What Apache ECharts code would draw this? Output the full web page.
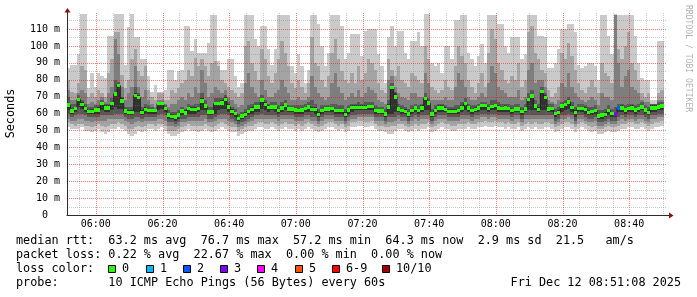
<!DOCTYPE html>
<html>
<head>
<meta charset="utf-8">
<script src="https://cdn.jsdelivr.net/npm/echarts@6.0.0/dist/echarts.min.js"></script>
<style>
html,body{margin:0;padding:0;background:#ffffff;}
#chart{width:697px;height:297px;}
</style>
</head>
<body>
<div id="chart"></div>
<script>
// ---------- data (time in minutes after midnight, values in ms) ----------
const timeStartMin = 351.35;   // 05:51:21
const timeEndMin = 531.35;     // 08:51:21
const stepMin = 1;             // one column per 60 s

const median = [65,61.6,63,68.5,65.5,63,61.4,61.4,62.3,62.3,
66,63.5,63.5,66,71.7,76.6,67.5,61.6,60.8,60.8,
70.7,69.5,60.8,62.6,62,62,62,66,66,63,
59.4,58.5,58,59.4,61.6,60.6,63,62.6,62.6,63,
67.5,64.5,61,61,66,66,66.5,68.5,64,61.2,
60.2,57.2,58.6,59.6,61.2,62.6,64.1,64.1,68.1,65.5,
63.7,64.1,64.1,61.8,63.5,65,62.8,62.8,62.2,61.8,
62.2,63.2,64.1,62.6,62.6,59.6,61.8,62.8,62.8,63.2,
61.8,61.8,61.8,59.6,62.2,63.7,63.7,63.7,63.7,63.7,
64.2,64.2,62,61.6,61.6,60,64,75.5,70,62.8,
62,61.4,60,62,63.3,62,63.3,69,66.2,60,
62,63.5,63.5,62.5,61.4,61.4,61.4,62,63.5,66,
63.3,62,62.5,63.3,64.8,64.8,63,64.2,64.8,63.5,
63,63.3,63,62,62.8,62.8,61.2,62.8,68.5,70.5,
64.7,62.6,73,69.5,62.8,63.2,60.2,60.8,64.5,65.5,
67,63.7,60.8,63.2,63.2,62.6,60.8,61.2,61.8,58.6,
59.2,59.6,61.8,60.2,60,63.3,63.5,62.2,63.2,63.5,
62.2,63.2,64.1,62.2,60.8,63.5,63.5,64.1,64.5];

// sorted pings per column: ping1 = fastest ... ping10 = slowest
const ping10 = [87,89,89,95,119,119,75,84,76,84, 82,81,106,106,119,119,119,89,111,119,
105,105,92,92,82,73,77,73,73,74, 86,86,80,85,86,112,112,97,104,96,
96,96,102,118,118,91,86,86,92,92, 82,76,78,118,118,118,104,100,112,112,
98,89,98,118,118,118,118,88,84,95, 88,78,86,118,118,113,100,88,96,118,
118,118,112,92,96,107,107,107,94,109, 110,110,110,95,88,78,105,112,100,109,
109,96,92,103,103,108,100,119,119,90, 88,90,84,100,100,92,115,115,118,118,
96,92,88,94,101,90,118,118,118,113, 113,100,96,105,105,105,92,95,118,118,
118,106,106,105,87,87,90,98,110,110, 113,113,108,89,87,88,90,90,88,80,
118,118,106,95,119,118,118,118,118,118, 106,90,81,80,80,68,68,103,103];

const ping9 = [80,73,72,78,88,86,70,72,70,74, 72,70,84,92,108,108,83,75,80,92,
98,85,82,88,74,70,68,72,72,68, 68,74,72,75,78,80,86,82,93,88,
92,88,82,90,91,88,80,78,76,74, 72,70,72,100,103,90,85,80,98,92,
82,78,84,92,103,96,88,78,75,80, 76,72,78,105,90,88,80,76,82,96,
104,92,85,80,78,84,78,88,80,84, 92,90,86,78,74,72,92,86,82,88,
80,78,76,84,82,80,78,100,92,76, 74,72,74,80,76,74,88,100,94,90,
80,76,72,78,84,76,96,110,104,90, 86,80,78,82,80,90,76,80,108,112,
96,92,86,84,74,70,72,76,96,92, 102,94,86,78,74,72,76,80,76,72,
90,84,82,78,118.5,98,92,100,108,90, 86,80,72,70,72,66,66,72,74];

const ping8 = [74,68,68,72,74,72,66,67,66,68, 70,67,72,76,104,95,76,68,72,76,
88,76,70,74,68,66,64,68,68,66, 64,66,66,68,70,68,72,70,76,72,
86,78,70,72,76,74,72,74,70,68, 66,64,65,78,84,76,72,70,80,74,
70,70,72,74,80,76,72,68,68,70, 68,68,70,82,76,72,70,68,70,78,
84,76,72,68,70,72,70,74,70,72, 76,74,72,68,67,66,80,82,76,72,
70,69,68,72,72,70,70,84,78,68, 68,68,68,70,68,68,76,84,80,76,
70,68,68,70,72,70,78,88,84,76, 74,72,70,70,70,74,68,70,86,90,
78,80,80,76,68,67,66,68,78,76, 84,76,72,70,68,67,68,70,68,65,
72,70,70,68,118,90,76,82,86,76, 74,72,68,67,67,66,66,68,68];

const ping7 = [70,66,66,71,68,66,64,64,65,65, 68,66,66,69,80,79,70,64,64,64,
76,72,64,66,65,64,63,67,67,65, 62,61,61,62,64,63,66,65,66,66,
72,68,64,64,69,69,69,71,67,64, 63,60,61,63,65,66,67,67,71,68,
66,67,67,65,67,68,65,65,65,65, 65,66,67,68,66,63,65,65,65,66,
66,65,65,63,65,66,66,67,66,67, 67,67,65,64,64,63,68,78,73,66,
65,64,63,65,66,65,66,72,69,63, 65,66,66,65,64,64,65,65,67,69,
66,65,65,66,67,67,66,68,68,67, 66,66,66,65,66,66,64,66,72,74,
68,66,76,72,66,66,63,64,67,68, 70,67,64,66,66,65,64,64,65,62,
62,63,65,63,64,66,66,65,66,66, 65,66,67,65,64,66,66,67,67];

const ping6 = [66,63,64,69,67,64,62,63,63,64, 67,65,65,67,73,77,69,63,62,62,
72,71,62,64,63,63,63,67,67,64, 60,60,59,60,63,62,64,64,64,64,
69,66,62,62,67,67,68,70,66,63, 61,58,60,61,62,64,65,65,69,67,
65,65,65,63,65,66,64,64,63,63, 63,64,65,64,64,61,63,64,64,64,
63,63,63,61,63,65,65,65,65,65, 65,65,63,63,63,61,66,76,72,64,
63,63,61,63,64,63,65,70,67,61, 63,65,65,64,63,63,63,63,65,67,
64,63,64,64,66,66,64,65,66,65, 64,65,64,63,64,64,62,64,69,71,
66,64,74,71,64,64,61,62,65,66, 68,65,62,64,64,64,62,62,63,60,
60,61,63,61,61,64,65,63,64,65, 63,64,65,63,62,65,65,65,66];

const ping5 = [62,60,61,64,63,61,60,60,60,60, 62,61,61,62,64,63,63,60,59,59,
61,61,59,60,60,60,60,62,63,61, 57,57,56,57,59,59,60,60,60,61,
62,62,59,59,60,62,63,63,61,59, 58,56,57,58,59,60,61,61,63,62,
61,62,61,60,61,62,61,61,60,60, 60,61,61,61,60,58,60,61,61,61,
60,60,60,58,60,61,62,62,62,62, 62,62,60,60,60,58,60,60,61,61,
60,60,58,60,61,60,61,62,62,58, 60,61,61,61,60,60,60,60,61,62,
61,60,61,61,62,62,61,62,62,61, 61,61,61,60,61,61,59,61,62,62,
62,61,62,62,61,61,58,59,61,62, 63,61,58,61,61,60,59,59,60,57,
57,58,59,58,58,61,61,60,61,61, 60,61,62,60,59,61,61,62,62];

const ping4 = [60,58,59,60,60,59,58,58,58,58, 59,59,59,59,60,60,60,58,57,57,
58,58,57,58,58,58,58,59,60,59, 55,55,54,55,57,57,58,58,58,58,
59,59,57,57,58,59,60,60,59,57, 56,54,55,56,57,58,59,59,60,59,
59,59,59,58,59,59,59,59,58,58, 58,59,59,58,58,56,58,59,59,59,
58,58,58,56,58,59,59,60,60,60, 60,60,58,58,58,56,58,58,58,59,
58,58,56,58,59,58,59,59,59,56, 58,59,59,59,58,58,58,58,59,59,
59,58,59,59,60,60,59,60,60,59, 59,59,59,58,59,59,57,59,59,59,
59,59,59,59,59,59,56,57,59,59, 60,59,56,59,59,58,57,57,58,55,
55,56,57,56,56,58,59,58,59,59, 58,59,59,58,57,59,59,60,60];

const ping3 = [57,56,56,57,57,56,56,55,56,56, 56,56,57,57,57,57,57,56,55,54,
55,56,55,56,56,56,56,57,57,56, 53,53,52,53,55,55,56,56,56,56,
56,57,55,55,56,57,57,57,56,55, 54,52,53,54,55,56,57,57,57,57,
57,57,57,56,57,57,57,57,56,56, 56,57,57,56,56,54,56,57,57,57,
56,56,56,54,56,57,57,58,58,58, 58,58,56,56,56,54,55,55,56,57,
56,56,54,56,57,56,57,57,57,54, 56,57,57,57,56,56,56,56,57,57,
57,56,57,57,58,58,57,58,58,57, 57,57,57,56,57,57,55,57,57,57,
57,57,57,57,57,57,54,55,57,57, 58,57,54,57,57,56,55,55,56,53,
53,54,55,54,54,56,57,56,57,57, 56,57,57,56,55,57,57,58,58];

const ping2 = [55,54,53,54,54,53,53,52,53,54, 53,52,53,54,54,55,54,53,51,51,
52,53,52,53,54,54,53,54,54,53, 50,50,50,51,52,53,54,53,53,53,
53,54,53,52,53,54,55,54,53,52, 52,50,51,52,53,53,54,55,55,54,
54,55,54,53,54,55,54,54,53,54, 53,54,55,54,53,52,53,54,55,55,
54,53,54,52,53,55,55,56,56,55, 55,56,54,53,53,52,52,53,53,54,
54,53,52,53,54,53,54,54,55,52, 53,54,55,54,54,53,53,54,54,54,
55,54,54,55,55,56,55,55,56,55, 55,54,55,54,54,55,53,54,55,54,
55,54,54,55,55,54,52,53,54,55, 55,54,52,54,55,54,53,52,53,51,
51,52,53,52,52,53,54,54,55,55, 54,54,55,54,53,54,55,55,56];

const ping1 = [52,51,51,51,52,50,50,49,50,51, 49,48,49,51,51,52,51,50,48,47,
48,50,49,50,51,51,50,51,52,50, 48,47,47,48,49,50,51,50,50,49,
50,51,50,49,50,51,52,51,50,49, 49,47,48,49,50,50,51,52,52,51,
51,52,51,50,51,52,51,51,50,51, 50,51,52,51,50,49,50,51,52,52,
51,50,51,49,50,52,52,53,53,52, 52,53,51,50,50,49,48,48,50,51,
51,50,49,50,51,50,51,51,52,49, 50,51,52,51,51,50,50,51,51,51,
52,51,51,52,52,53,52,52,53,52, 52,51,52,51,51,52,50,51,52,51,
52,51,51,52,52,51,49,50,51,52, 52,51,49,51,52,51,50,49,50,48,
48,49,50,49,49,50,51,51,52,52, 51,51,52,51,50,51,52,52,53];

// packet loss (lost pings out of 10) — only non-zero columns listed
const lossCols = [164, 165];
const lossVals = [3, 2];

// axis ticks
const xMajorTicks = [360, 380, 400, 420, 440, 460, 480, 500, 520];
const xMajorLabels = ['06:00', '06:20', '06:40', '07:00', '07:20', '07:40', '08:00', '08:20', '08:40'];
const xMinorTicks = [355, 365, 370, 375, 385, 390, 395, 405, 410, 415, 425, 430, 435, 445, 450, 455,
  465, 470, 475, 485, 490, 495, 505, 510, 515, 525, 530];
const yMajorTicks = [10, 20, 30, 40, 50, 60, 70, 80, 90, 100, 110];
const yMinorTicks = [5, 15, 25, 35, 45, 55, 65, 75, 85, 95, 105, 115];

// legend
const lossLabels = ['0', '1', '2', '3', '4', '5', '6-9', '10/10'];
const lossColors = ['#26ff00', '#00b8ff', '#0059ff', '#7e00ff', '#ff00ff', '#ff5500', '#ff0000', '#a10000'];
const legendLine1 = 'median rtt:  63.2 ms avg  76.7 ms max  57.2 ms min  64.3 ms now  2.9 ms sd  21.5   am/s';
const legendLine2 = 'packet loss: 0.22 % avg  22.67 % max  0.00 % min  0.00 % now';
const legendLine3 = 'loss color:';
const legendLine4 = 'probe:       10 ICMP Echo Pings (56 Bytes) every 60s';
const dateText = 'Fri Dec 12 08:51:08 2025';
const yTitle = 'Seconds';
const watermark = 'RRDTOOL / TOBI OETIKER';

// ---------- chart ----------
const MONO = '"DejaVu Sans Mono", "Liberation Mono", monospace';
const pings = [ping1, ping2, ping3, ping4, ping5, ping6, ping7, ping8, ping9, ping10];
const smokeColors = ['#cacaca', '#a4a4a4', '#7e7e7e', '#585858', '#323232'];
const minorGridColor = 'rgba(128,128,128,0.4)';
const majorGridColor = 'rgba(255,0,0,0.5)';

function lossColorIndex(c) { return c <= 5 ? c : (c <= 9 ? 6 : 7); }
const lossAt = median.map(() => 0);
lossCols.forEach((c, i) => { lossAt[c] = lossVals[i]; });

// y split line colours, one per 5 ms tick from 0 to 120
const ySplitColors = [];
for (let v = 0; v <= 120; v += 5) {
  ySplitColors.push(yMajorTicks.indexOf(v) >= 0 ? majorGridColor : (yMinorTicks.indexOf(v) >= 0 ? minorGridColor : 'rgba(0,0,0,0)'));
}

const series = [];
for (let b = 0; b < 5; b++) {
  const lo = pings[b], hi = pings[9 - b];
  const color = smokeColors[b];
  series.push({
    type: 'custom', coordinateSystem: 'cartesian2d', clip: true, silent: true, z: 2 + b * 0.1,
    encode: { x: 0, y: [1, 2] },
    data: median.map((_, k) => [timeStartMin + k * stepMin, lo[k], hi[k]]),
    renderItem: function (params, api) {
      const t = api.value(0);
      const a = api.coord([t, api.value(2)]);
      const c = api.coord([t + stepMin, api.value(1)]);
      const x0 = Math.round(a[0]), x1 = Math.round(c[0]);
      const y0 = Math.round(a[1]), y1 = Math.round(c[1]);
      return { type: 'rect', shape: { x: x0, y: y0, width: x1 - x0, height: Math.max(1, y1 - y0) }, style: { fill: color } };
    }
  });
}

// vertical grid lines (drawn above the smoke, like rrdtool)
function vGridSeries(ticks, color, z) {
  return {
    type: 'custom', coordinateSystem: 'cartesian2d', clip: false, silent: true, z: z,
    encode: { x: 0, y: 1 },
    data: ticks.map(t => [t, 60]),
    renderItem: function (params, api) {
      const p0 = api.coord([api.value(0), 0]);
      const p1 = api.coord([api.value(0), 120]);
      const x = Math.round(p0[0]) + 0.5;
      return { type: 'line', shape: { x1: x, y1: Math.round(p0[1]), x2: x, y2: Math.round(p1[1]) },
        style: { stroke: color, lineWidth: 1, lineDash: [1, 1] } };
    }
  };
}
series.push(vGridSeries(xMinorTicks, minorGridColor, 3));
series.push(vGridSeries(xMajorTicks, majorGridColor, 3.2));

// median line (dark step line) and loss-coloured median marks
const medLine = median.map((m, k) => [timeStartMin + k * stepMin, m]);
medLine.push([timeStartMin + median.length * stepMin, median[median.length - 1]]);
series.push({
  type: 'line', step: 'end', data: medLine, symbol: 'none', z: 5, silent: true,
  lineStyle: { color: '#202020', width: 1 }, clip: true
});
series.push({
  type: 'custom', coordinateSystem: 'cartesian2d', clip: true, silent: true, z: 6,
  encode: { x: 0, y: 1 },
  data: median.map((m, k) => [timeStartMin + k * stepMin, m, lossAt[k]]),
  renderItem: function (params, api) {
    const t = api.value(0), m = api.value(1);
    const a = api.coord([t, m + 1.05]);
    const c = api.coord([t + stepMin, m - 1.05]);
    const x0 = Math.round(a[0]), x1 = Math.round(c[0]);
    const y0 = Math.round(a[1]), y1 = Math.round(c[1]);
    return { type: 'rect', shape: { x: x0, y: y0, width: x1 - x0, height: y1 - y0 }, style: { fill: lossColors[lossColorIndex(api.value(2))] } };
  }
});

// graphic texts and legend boxes
const graphic = [];
function txt(text, x, y, opts) {
  graphic.push(Object.assign({ type: 'text', x: x, y: y, z: 100, silent: true,
    style: Object.assign({ text: text, font: '11.8px ' + MONO, fill: '#000', textAlign: 'left', textVerticalAlign: 'middle' }, (opts && opts.style) || {}) },
    opts && opts.rotation !== undefined ? { rotation: opts.rotation } : {}));
}
txt(legendLine1, 16, 241);
txt(legendLine2, 16, 255);
txt(legendLine3, 16, 269);
txt(legendLine4, 16, 283);
txt(dateText, 681, 283, { style: { textAlign: 'right' } });
txt(yTitle, 10.5, 113.5, { rotation: Math.PI / 2, style: { textAlign: 'center' } });
txt(watermark, 688, 5, { rotation: -Math.PI / 2, style: { font: '8.1px ' + MONO, fill: '#b4b4b4', textAlign: 'left' } });

const boxX = [108, 146, 183, 220, 257, 295, 332, 382];
lossLabels.forEach((lab, i) => {
  graphic.push({ type: 'rect', z: 100, silent: true, shape: { x: boxX[i] + 0.5, y: 265.5, width: 7, height: 7 },
    style: { fill: lossColors[i], stroke: '#000', lineWidth: 1 } });
  txt(lab, boxX[i] + 14, 269);
});

// axis arrows
graphic.push({ type: 'polygon', z: 100, silent: true, shape: { points: [[64.5, 12.5], [67.5, 8], [70.5, 12.5]] }, style: { fill: '#8b1010' } });
graphic.push({ type: 'line', z: 100, silent: true, shape: { x1: 667, y1: 215.5, x2: 669, y2: 215.5 }, style: { stroke: '#2b2b2b', lineWidth: 1 } });
graphic.push({ type: 'polygon', z: 100, silent: true, shape: { points: [[669, 212.5], [673.5, 215.5], [669, 218.5]] }, style: { fill: '#8b1010' } });

const chart = echarts.init(document.getElementById('chart'), null, { renderer: 'canvas' });
chart.setOption({
  animation: false,
  backgroundColor: '#ffffff',
  grid: { left: 67, right: 30, top: 12, bottom: 81.5 },
  xAxis: {
    type: 'value', min: timeStartMin, max: timeEndMin, z: 4,
    axisLine: { show: true, onZero: false, lineStyle: { color: '#2b2b2b', width: 1 } },
    axisTick: { show: false },
    splitLine: { show: false },
    axisLabel: {
      customValues: xMajorTicks,
      formatter: function (v) { const i = xMajorTicks.indexOf(Math.round(v)); return i >= 0 ? xMajorLabels[i] : ''; },
      fontFamily: MONO, fontSize: 10, color: '#000', margin: 4
    }
  },
  yAxis: {
    type: 'value', min: 0, max: 120, interval: 5, z: 4,
    axisLine: { show: true, lineStyle: { color: '#2b2b2b', width: 1 } },
    axisTick: { show: false },
    splitLine: { show: true, lineStyle: { color: ySplitColors, width: 1, type: [1, 1] } },
    axisLabel: {
      formatter: function (v) {
        if (yMajorTicks.indexOf(v) >= 0) return v + ' m';
        if (v === 0) return '0\u00a0\u00a0';
        return '';
      },
      fontFamily: MONO, fontSize: 10, color: '#000', margin: 7
    }
  },
  series: series,
  graphic: graphic
});
</script>
</body>
</html>
